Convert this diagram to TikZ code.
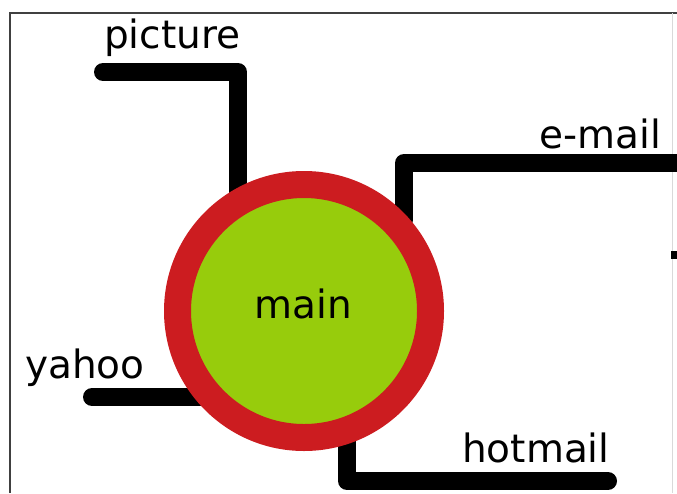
\documentclass[tikz,border=0pt]{standalone}
\usepackage{fontspec}
\setmainfont{DejaVu Sans}
\definecolor{ringred}{RGB}{204,28,32}
\definecolor{limegreen}{RGB}{151,204,12}

\begin{document}
\begin{tikzpicture}[x=1pt,y=-1pt,
  wire/.style={line width=18pt, line cap=round, line join=round},
  lbl/.style={font=\fontsize{39}{47}\selectfont, inner sep=0pt, anchor=base west}]
\useasboundingbox (0,0) rectangle (677,493);
% frame
\draw[black!75, line width=1.5pt] (10,493) -- (10,13) -- (677,13);
\draw[black!15, line width=1pt] (672,13) -- (672,493);
\fill (671,251) rectangle (677,259);
% corner points of the wires
\coordinate (pic1) at (103,72);
\coordinate (pic2) at (238,72);
\coordinate (pic3) at (238,210);
\coordinate (mail1) at (404,220);
\coordinate (mail2) at (404,163);
\coordinate (mail3) at (690,163);
\coordinate (yah1) at (92,397);
\coordinate (yah2) at (210,397);
\coordinate (hot1) at (347,420);
\coordinate (hot2) at (347,481);
\coordinate (hot3) at (608,481);
\draw[wire] (pic1) -- (pic2) -- (pic3);
\draw[wire] (mail1) -- (mail2) -- (mail3);
\draw[wire] (yah1) -- (yah2);
\draw[wire] (hot1) -- (hot2) -- (hot3);
% the hub
\node[circle, fill=limegreen, draw=ringred, line width=27pt, minimum size=253pt, inner sep=0pt] (main) at (304,311) {};
\node[lbl, anchor=base] (mainlbl) at (303,318) {main};
% labels
\node[lbl] (piclbl) at (104,48) {picture};
\node[lbl] (maillbl) at (539,148) {e-mail};
\node[lbl] (yahlbl) at (25,378) {yahoo};
\node[lbl] (hotlbl) at (462,462) {hotmail};
\end{tikzpicture}
\end{document}
